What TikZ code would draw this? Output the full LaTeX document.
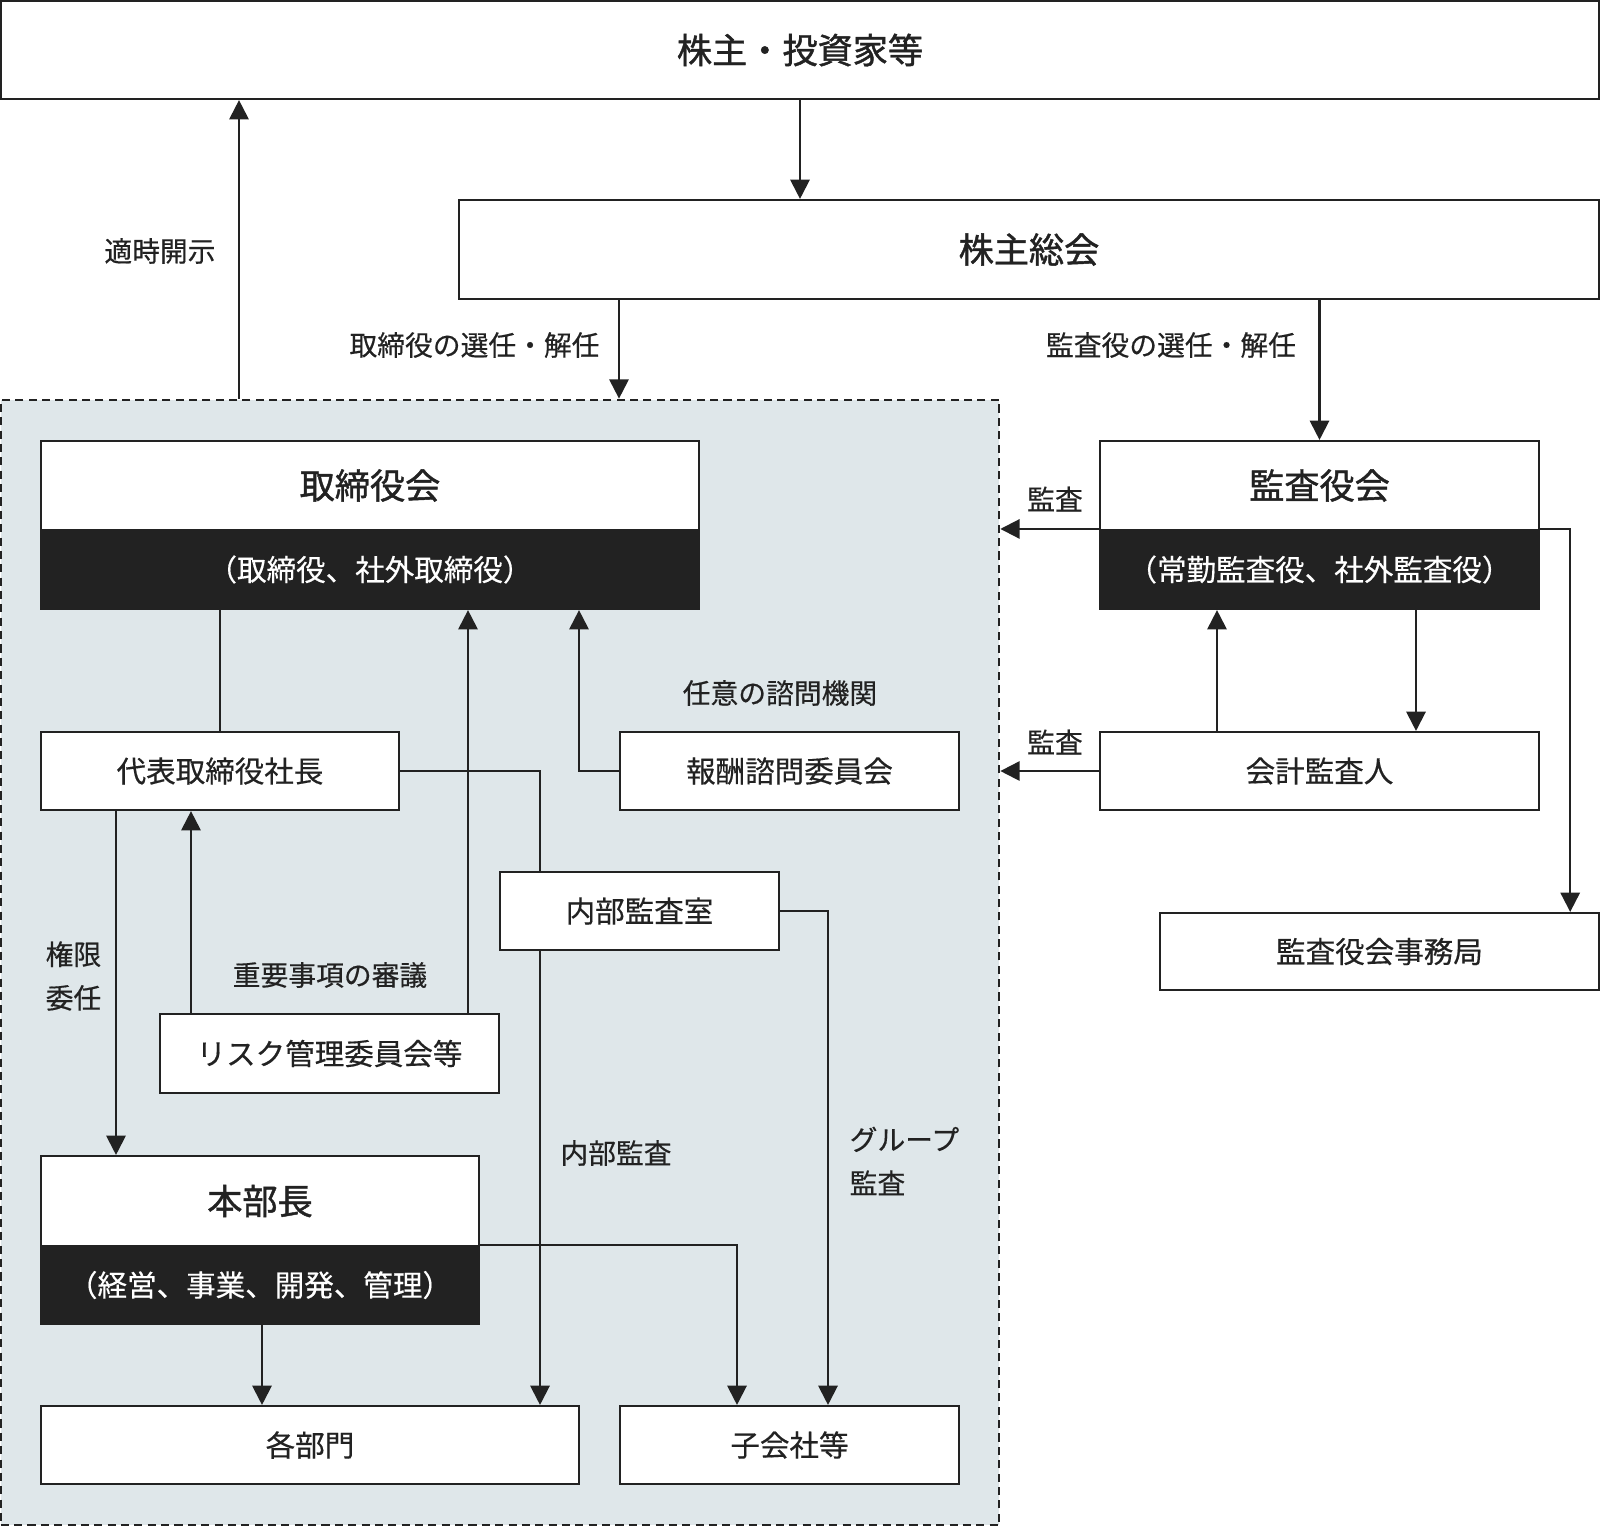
\documentclass[tikz,border=0pt]{standalone}
\usepackage{fontspec}
\setmainfont{Noto Sans CJK JP}[FakeBold=0.4]
\newfontfamily\headfont{Noto Sans CJK JP}[FakeBold=1.2]
\usepackage{xcolor}
\usepackage{tikz}
\usetikzlibrary{arrows.meta,calc}
\definecolor{ink}{HTML}{222222}
\definecolor{panel}{HTML}{DFE7EA}

\begin{document}
\begin{tikzpicture}
    [x=0.01cm, y=-0.01cm,
    box/.style = {rectangle, draw=ink, fill=white, line width=0.6pt,
                  inner sep=0pt, text=ink, font=\fontsize{8.4}{10}\selectfont},
    head/.style = {box, font=\headfont\fontsize{10}{12}\selectfont},
    sub/.style = {box, fill=ink, text=white},
    lbl/.style = {text=ink, inner sep=0pt, align=left,
                  font=\fontsize{7.9}{12.4}\selectfont},
    con/.style = {draw=ink, line width=0.6pt},
    arr/.style = {con, -{Triangle[length=5.5pt,width=5.5pt]}}]
    \useasboundingbox (0,0) rectangle (1600,1526);
    % Accionistas y junta
    \node[head, minimum width=15.98cm, minimum height=0.98cm] (holders) at (800,50) {株主・投資家等};
    \node[head, minimum width=11.4cm, minimum height=0.99cm] (meeting) at (1029,249.5) {株主総会};
    % Zona interna
    \node[draw=ink, fill=panel, line width=0.6pt, dash pattern=on 2.3pt off 1.5pt,
          minimum width=9.98cm, minimum height=11.25cm] (inner) at (500,962.5) {};
    % Consejo
    \node[head, minimum width=6.58cm, minimum height=0.89cm] (board) at (370,485.5) {取締役会};
    \node[sub, minimum width=6.58cm, minimum height=0.79cm] (boardsub) at (370,569.5) {（取締役、社外取締役）};
    % Auditores
    \node[head, minimum width=4.39cm, minimum height=0.89cm] (kansa) at (1319.5,485.5) {監査役会};
    \node[sub, minimum width=4.39cm, minimum height=0.79cm] (kansasub) at (1319.5,569.5) {（常勤監査役、社外監査役）};
    \node[box, minimum width=4.39cm, minimum height=0.78cm] (auditor) at (1319.5,771) {会計監査人};
    \node[box, minimum width=4.39cm, minimum height=0.77cm] (office) at (1379.5,951.5) {監査役会事務局};
    % Ejecutivos
    \node[box, minimum width=3.58cm, minimum height=0.78cm] (president) at (220,771) {代表取締役社長};
    \node[box, minimum width=3.39cm, minimum height=0.78cm] (reward) at (789.5,771) {報酬諮問委員会};
    \node[box, minimum width=2.79cm, minimum height=0.78cm] (audit) at (639.5,911) {内部監査室};
    \node[box, minimum width=3.39cm, minimum height=0.79cm] (risk) at (329.5,1053.5) {リスク管理委員会等};
    \node[head, minimum width=4.38cm, minimum height=0.9cm] (honbu) at (260,1201) {本部長};
    \node[sub, minimum width=4.38cm, minimum height=0.78cm] (honbusub) at (260,1285) {（経営、事業、開発、管理）};
    \node[box, minimum width=5.38cm, minimum height=0.78cm] (depts) at (310,1445) {各部門};
    \node[box, minimum width=3.39cm, minimum height=0.78cm] (subs) at (789.5,1445) {子会社等};
    % Flechas de arriba
    \draw[arr] (holders.south) -- (holders.south |- meeting.north);
    \draw[arr] (239,0 |- inner.north) -- (239,0 |- holders.south);
    \draw[arr] (619,0 |- meeting.south) -- (619,0 |- inner.north);
    \draw[arr] (kansa.north |- meeting.south) -- (kansa.north);
    % Auditoria
    \draw[arr] (kansasub.north west) -- (kansasub.north west -| inner.east);
    \draw[arr] (auditor.west) -- (auditor.west -| inner.east);
    \draw[arr] (1217,0 |- auditor.north) -- (1217,0 |- kansasub.south);
    \draw[arr] (1416,0 |- kansasub.south) -- (1416,0 |- auditor.north);
    \draw[arr] (kansasub.north east) -| ($(office.north east)+(-30,0)$);
    % Lineas internas
    \draw[con] (president.north |- boardsub.south) -- (president.north);
    \draw[arr] (reward.west) -| (579,0 |- boardsub.south);
    \draw[con] (president.east) -| (540,0 |- audit.north);
    \draw[arr] (540,0 |- audit.south) -- (540,0 |- depts.north);
    \draw[arr] (audit.east) -| (828,0 |- subs.north);
    \draw[arr] (468,0 |- risk.north) -- (468,0 |- boardsub.south);
    \draw[arr] (191,0 |- risk.north) -- (191,0 |- president.south);
    \draw[arr] (116,0 |- president.south) -- (116,0 |- honbu.north);
    \draw[arr] (262,0 |- honbusub.south) -- (262,0 |- depts.north);
    \draw[arr] (honbusub.north east) -| (737,0 |- subs.north);
    % Etiquetas
    \node[lbl] (disclose) at (160,251) {適時開示};
    \node[lbl] (elect) at (474.5,345) {取締役の選任・解任};
    \node[lbl] (elect2) at (1171,345) {監査役の選任・解任};
    \node[lbl] (check1) at (1055,499) {監査};
    \node[lbl] (check2) at (1055,742) {監査};
    \node[lbl] (advisory) at (780,693) {任意の諮問機関};
    \node[lbl] (review) at (330,975) {重要事項の審議};
    \node[lbl, anchor=west] (delegate) at (45,976) {権限\\委任};
    \node[lbl] (internal) at (616,1153) {内部監査};
    \node[lbl, anchor=west] (group) at (849,1161) {グループ\\監査};
\end{tikzpicture}
\end{document}
